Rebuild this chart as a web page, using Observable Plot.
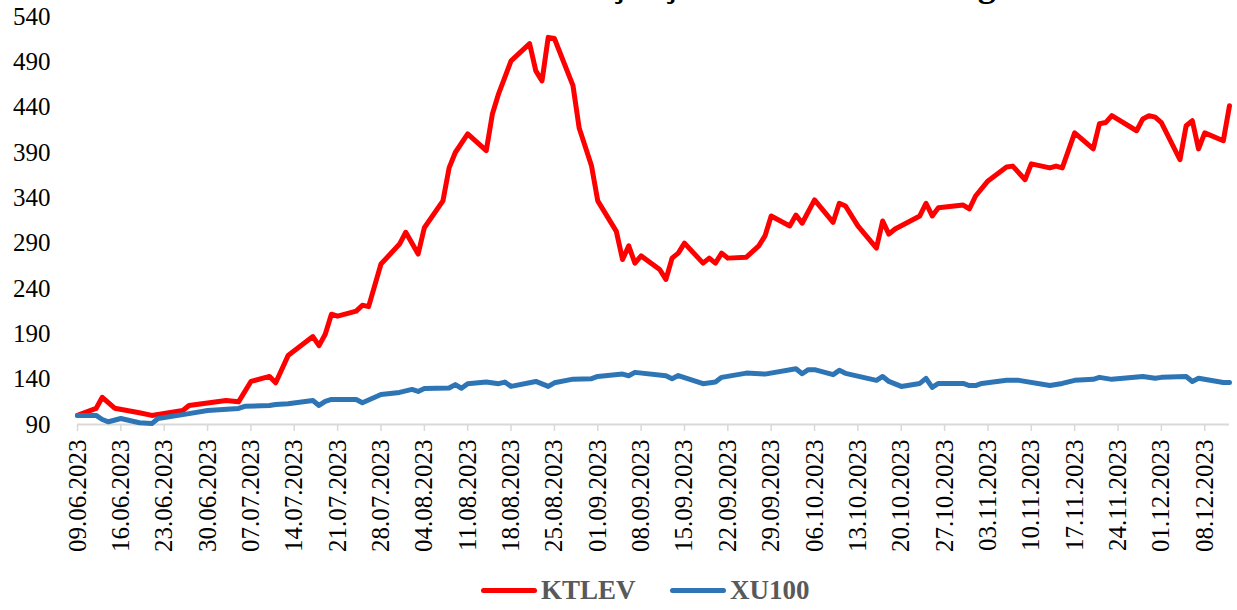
<!DOCTYPE html>
<html>
<head>
<meta charset="utf-8">
<script src="https://cdn.jsdelivr.net/npm/d3@7"></script>
<script src="https://cdn.jsdelivr.net/npm/@observablehq/plot@0.6"></script>
<style>
  html, body { margin: 0; padding: 0; background: #fff; }
  body { width: 1237px; height: 610px; overflow: hidden; position: relative; font-family: "Liberation Serif", "Times New Roman", serif; }
  #title { position: absolute; z-index: 2; left: 0; top: -34px; width: 1287px; text-align: center; font-size: 36px; line-height: 36px; font-weight: bold; color: #000; white-space: nowrap; }
  #chart { position: absolute; z-index: 1; left: 0; top: 0; }
  #legend { position: absolute; left: 0; top: 574px; width: 1237px; height: 32px; }
  .item { position: absolute; top: 0; display: flex; align-items: center; height: 32px; }
  .swatch { width: 56px; height: 5px; border-radius: 3px; margin-right: 4px; }
  .label { font-size: 27px; font-weight: bold; color: #595959; }
</style>
</head>
<body>
<div id="title">KTLEV / XU100 Karşılaştırmalı Getiri Grafiği</div>
<div id="chart"></div>
<div id="legend"></div>
<script>
const seriesNames = ["KTLEV", "XU100"];
const seriesColors = ["#ff0000", "#2e75b6"];

const ktlevDates = ["2023-06-09","2023-06-12","2023-06-13","2023-06-15","2023-06-19","2023-06-21","2023-06-26","2023-06-27","2023-07-03","2023-07-05","2023-07-07","2023-07-10","2023-07-11","2023-07-13","2023-07-17","2023-07-18","2023-07-19","2023-07-20","2023-07-21","2023-07-24","2023-07-25","2023-07-26","2023-07-28","2023-07-31","2023-08-01","2023-08-03","2023-08-04","2023-08-07","2023-08-08","2023-08-09","2023-08-11","2023-08-14","2023-08-15","2023-08-16","2023-08-18","2023-08-21","2023-08-22","2023-08-23","2023-08-24","2023-08-25","2023-08-28","2023-08-29","2023-08-31","2023-09-01","2023-09-04","2023-09-05","2023-09-06","2023-09-07","2023-09-08","2023-09-11","2023-09-12","2023-09-13","2023-09-14","2023-09-15","2023-09-18","2023-09-19","2023-09-20","2023-09-21","2023-09-22","2023-09-25","2023-09-27","2023-09-28","2023-09-29","2023-10-02","2023-10-03","2023-10-04","2023-10-06","2023-10-09","2023-10-10","2023-10-11","2023-10-13","2023-10-16","2023-10-17","2023-10-18","2023-10-19","2023-10-23","2023-10-24","2023-10-25","2023-10-26","2023-10-30","2023-10-31","2023-11-01","2023-11-03","2023-11-06","2023-11-07","2023-11-09","2023-11-10","2023-11-13","2023-11-14","2023-11-15","2023-11-17","2023-11-20","2023-11-21","2023-11-22","2023-11-23","2023-11-27","2023-11-28","2023-11-29","2023-11-30","2023-12-01","2023-12-04","2023-12-05","2023-12-06","2023-12-07","2023-12-08","2023-12-11","2023-12-12"];
const ktlevValues = [100,107.7,120,108,103,100,105.5,111,116.5,115,137.5,143,136,166,187,177,189.5,211.6,209.5,215,221.6,220,267,289,302,278,307,336.6,373,390,410.6,392,432.8,455,491,510,480,469,517,515.7,463.7,417,375,336.6,303,272,287,268,276,261,250,273.5,279,290,268,273.5,268,279,273.5,274.6,287,298,320,309,321,312,337.7,313,334,331,309,284.6,314.5,300,305.6,320,334,320,329,332,327.7,342,358.7,374,375,360,377.5,373,375,373,411.7,394,421.7,423,430.6,414,427,430.6,429,423,382,419.5,425,394,411.7,403,441.6];

const xu100Dates = ["2023-06-09","2023-06-12","2023-06-13","2023-06-14","2023-06-16","2023-06-19","2023-06-21","2023-06-22","2023-06-27","2023-06-30","2023-07-05","2023-07-06","2023-07-10","2023-07-11","2023-07-13","2023-07-17","2023-07-18","2023-07-19","2023-07-20","2023-07-24","2023-07-25","2023-07-28","2023-07-31","2023-08-02","2023-08-03","2023-08-04","2023-08-08","2023-08-09","2023-08-10","2023-08-11","2023-08-14","2023-08-16","2023-08-17","2023-08-18","2023-08-22","2023-08-24","2023-08-25","2023-08-28","2023-08-31","2023-09-01","2023-09-05","2023-09-06","2023-09-07","2023-09-12","2023-09-13","2023-09-14","2023-09-18","2023-09-20","2023-09-21","2023-09-25","2023-09-28","2023-10-03","2023-10-04","2023-10-05","2023-10-06","2023-10-09","2023-10-10","2023-10-11","2023-10-16","2023-10-17","2023-10-18","2023-10-20","2023-10-23","2023-10-24","2023-10-25","2023-10-26","2023-10-30","2023-10-31","2023-11-01","2023-11-02","2023-11-06","2023-11-08","2023-11-13","2023-11-15","2023-11-17","2023-11-20","2023-11-21","2023-11-23","2023-11-28","2023-11-30","2023-12-01","2023-12-05","2023-12-06","2023-12-07","2023-12-11","2023-12-12"];
const xu100Values = [100,100,95.5,93,96.6,92,91,96.6,102,105.5,107.7,110,111,112,113,116.5,111,115.4,117.6,117.6,114,123,125.4,128.7,126.5,129.8,130.2,134,130,135,136.8,135,136.8,132,137.5,132,136,140,140.5,143,145.6,143.8,147.5,143.8,140.5,144,135,136.8,142,146.7,145.6,151.5,146,150.5,150.5,145,149.7,146.4,138.7,143,137.5,132,135.3,140.9,131,135.3,135.3,133,133,135.3,138.7,138.7,133,135.3,138.7,139.8,142,139.8,143,141,142,143,137.5,141,136.4,136.4];

const xTickDates = ["2023-06-09","2023-06-16","2023-06-23","2023-06-30","2023-07-07","2023-07-14","2023-07-21","2023-07-28","2023-08-04","2023-08-11","2023-08-18","2023-08-25","2023-09-01","2023-09-08","2023-09-15","2023-09-22","2023-09-29","2023-10-06","2023-10-13","2023-10-20","2023-10-27","2023-11-03","2023-11-10","2023-11-17","2023-11-24","2023-12-01","2023-12-08"];
const yTicks = [90,140,190,240,290,340,390,440,490,540];
const xDomain = ["2023-06-09","2023-12-12"];

const parse = d3.utcParse("%Y-%m-%d");
const ktlev = ktlevDates.map((d, i) => ({date: parse(d), value: ktlevValues[i]}));
const xu100 = xu100Dates.map((d, i) => ({date: parse(d), value: xu100Values[i]}));

const chart = Plot.plot({
  width: 1237,
  height: 575,
  marginLeft: 77,
  marginRight: 8,
  marginTop: 16,
  marginBottom: 151,
  x: {type: "utc", domain: xDomain.map(parse)},
  y: {domain: [yTicks[0], yTicks[yTicks.length - 1]]},
  style: {fontFamily: "'Liberation Serif', 'Times New Roman', serif", background: "transparent", color: "#000"},
  marks: [
    Plot.ruleY([yTicks[0]], {stroke: "#d9d9d9", strokeWidth: 2}),
    Plot.axisX({
      ticks: xTickDates.map(parse),
      tickFormat: d3.utcFormat("%d.%m.%Y"),
      tickRotate: -90,
      tickSize: 7,
      tickPadding: 8,
      stroke: "#d9d9d9",
      strokeWidth: 1.5,
      fill: "#000",
      fontSize: 25,
      label: null
    }),
    Plot.axisY({
      ticks: yTicks,
      tickSize: 0,
      tickPadding: 27,
      fill: "#000",
      fontSize: 25,
      label: null
    }),
    Plot.line(ktlev, {x: "date", y: "value", stroke: seriesColors[0], strokeWidth: 5, strokeLinejoin: "round", strokeLinecap: "round"}),
    Plot.line(xu100, {x: "date", y: "value", stroke: seriesColors[1], strokeWidth: 5, strokeLinejoin: "round", strokeLinecap: "round"})
  ]
});
document.getElementById("chart").appendChild(chart);

const legend = document.getElementById("legend");
const lefts = [481, 670];
seriesNames.forEach((name, i) => {
  const item = document.createElement("div");
  item.className = "item";
  item.style.left = lefts[i] + "px";
  const sw = document.createElement("div");
  sw.className = "swatch";
  sw.style.background = seriesColors[i];
  const lb = document.createElement("span");
  lb.className = "label";
  lb.textContent = name;
  item.appendChild(sw);
  item.appendChild(lb);
  legend.appendChild(item);
});
</script>
</body>
</html>
